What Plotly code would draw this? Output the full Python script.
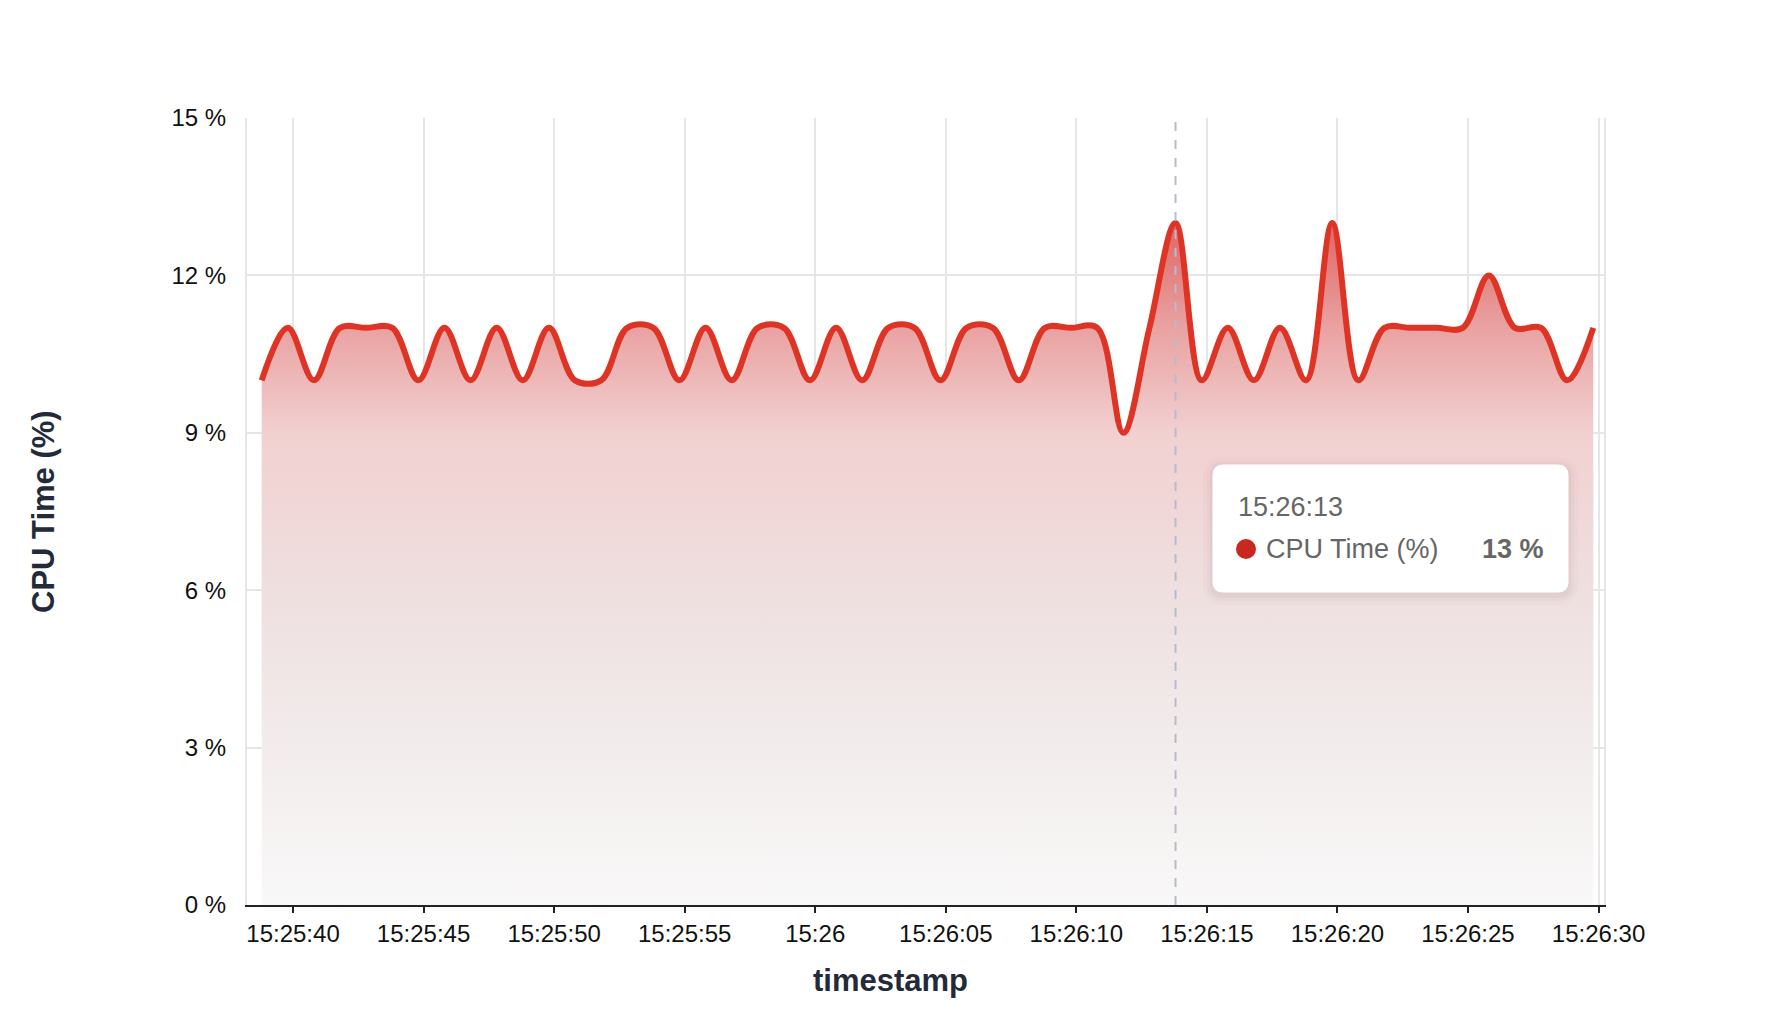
import pandas as pd
import plotly.graph_objects as go

# CPU samples, one per second
start_time = "2024-01-01 15:25:38.8"
cpu_pct = [10, 11, 10, 11, 11, 11, 10, 11, 10, 11,
           10, 11, 10, 10, 11, 11, 10, 11, 10, 11,
           11, 10, 11, 10, 11, 11, 10, 11, 11, 10,
           11, 11, 11, 9, 11, 13, 10, 11, 10, 11,
           10, 13, 10, 11, 11, 11, 11, 12, 11, 11,
           10, 11]
timestamps = pd.date_range(start_time, periods=len(cpu_pct), freq="1s")

tick_times = pd.date_range("2024-01-01 15:25:40", "2024-01-01 15:26:30", freq="5s")
tick_labels = ["15:25:40", "15:25:45", "15:25:50", "15:25:55", "15:26", "15:26:05",
               "15:26:10", "15:26:15", "15:26:20", "15:26:25", "15:26:30"]
y_ticks = [0, 3, 6, 9, 12, 15]
y_labels = ["0 %", "3 %", "6 %", "9 %", "12 %", "15 %"]

hover_idx = 35  # point under the tooltip
series_name = "CPU Time (%)"

FONT = "Liberation Sans, Arial, Helvetica, sans-serif"
W, H = 1772, 1024
OFF = 8  # page body margin
L, R, T, B = 247 - OFF, 176, 118 - OFF, 127
PW, PH = W - L - R, H - T - B


def px(x):
    # screenshot pixel -> paper x
    return (x - OFF - L) / PW


def py(y):
    return (H - B - (y - OFF)) / PH


def round_box(x0, y0, x1, y1, r):
    # rounded rectangle in paper coords from pixel box
    rx, ry = r / PW, r / PH
    a, b, c, d = px(x0), py(y1), px(x1), py(y0)
    return (f"M{a+rx},{b} L{c-rx},{b} Q{c},{b} {c},{b+ry} L{c},{d-ry} Q{c},{d} {c-rx},{d} "
            f"L{a+rx},{d} Q{a},{d} {a},{d-ry} L{a},{b+ry} Q{a},{b} {a+rx},{b} Z")


fig = go.Figure()
fig.add_trace(go.Scatter(
    x=timestamps, y=cpu_pct, mode="lines", name=series_name,
    line=dict(color="#de3425", width=6, shape="spline", smoothing=1.0),
    fill="tozeroy",
    fillgradient=dict(
        type="vertical", start=0, stop=13,
        colorscale=[[0, "#f9f8f8"], [0.23, "#f2ecec"], [0.46, "#efdfdf"],
                    [0.69, "#f2d0d0"], [0.85, "#e9a0a0"], [1, "#e06462"]]),
    hoverinfo="skip",
))

# hover crosshair
hx = timestamps[hover_idx]
fig.add_shape(type="line", xref="x", yref="paper", x0=hx, x1=hx, y0=0, y1=1,
              line=dict(color="#b7bccb", width=2, dash="dash"), layer="above")

# tooltip box with soft shadow
bx0, by0, bx1, by1 = 1213, 465, 1568, 592
for grow, op in [(10, 0.02), (6, 0.03), (3, 0.04)]:
    fig.add_shape(type="path", xref="paper", yref="paper",
                  path=round_box(bx0 - grow, by0 - grow + 3, bx1 + grow, by1 + grow + 3, 10 + grow),
                  fillcolor=f"rgba(80,70,70,{op})", line=dict(width=0), layer="above")
fig.add_shape(type="path", xref="paper", yref="paper",
              path=round_box(bx0, by0, bx1, by1, 10),
              fillcolor="white", line=dict(color="#ffffff", width=1), layer="above")
fig.add_shape(type="circle", xref="paper", yref="paper",
              x0=px(1236), x1=px(1256), y0=py(559), y1=py(539),
              fillcolor="#c8281e", line=dict(width=0), layer="above")

fig.add_annotation(xref="paper", yref="paper", x=px(1236), y=py(507),
                   text=hx.strftime("%H:%M:%S"), showarrow=False,
                   xanchor="left", yanchor="middle",
                   font=dict(family=FONT, size=27, color="#666666"))
fig.add_annotation(xref="paper", yref="paper", x=px(1264), y=py(549),
                   text=series_name, showarrow=False,
                   xanchor="left", yanchor="middle",
                   font=dict(family=FONT, size=27, color="#666666"))
fig.add_annotation(xref="paper", yref="paper", x=px(1546), y=py(549),
                   text=f"<b>{cpu_pct[hover_idx]} %</b>", showarrow=False,
                   xanchor="right", yanchor="middle",
                   font=dict(family=FONT, size=27, color="#666666"))

# axis titles
fig.add_annotation(xref="paper", yref="paper", x=px(890), y=py(980),
                   text="<b>timestamp</b>", showarrow=False,
                   xanchor="center", yanchor="middle",
                   font=dict(family=FONT, size=31, color="#232a3a"))
fig.add_annotation(xref="paper", yref="paper", x=px(43), y=py(512),
                   text="<b>CPU Time (%)</b>", showarrow=False, textangle=-90,
                   xanchor="center", yanchor="middle",
                   font=dict(family=FONT, size=31, color="#232a3a"))

fig.update_layout(
    width=W, height=H,
    margin=dict(l=L, r=R, t=T, b=B),
    paper_bgcolor="white", plot_bgcolor="white",
    showlegend=False,
    font=dict(family=FONT, size=24, color="#111111"),
    xaxis=dict(
        range=["2024-01-01 15:25:38.238", "2024-01-01 15:26:30.21"],
        tickvals=list(tick_times), ticktext=tick_labels,
        showgrid=True, gridcolor="#e6e6e6", gridwidth=2,
        showline=True, linecolor="#222222", linewidth=2,
        ticks="outside", ticklen=6, tickwidth=2, tickcolor="#222222",
        zeroline=False,
    ),
    yaxis=dict(
        range=[0, 15], tickvals=y_ticks, ticktext=y_labels,
        showgrid=True, gridcolor="#e6e6e6", gridwidth=2,
        showline=True, linecolor="#e6e6e6", linewidth=2, mirror=True,
        ticks="outside", ticklen=14, tickcolor="rgba(0,0,0,0)",
        zeroline=False,
    ),
)

fig.write_html("out.html")
